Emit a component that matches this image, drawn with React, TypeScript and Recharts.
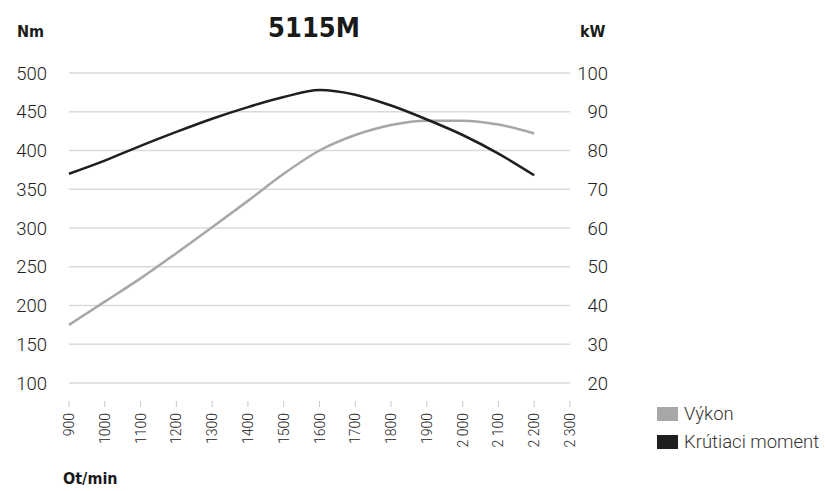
import React from 'react';
import { LineChart, Line, XAxis, YAxis, CartesianGrid } from 'recharts';

const rpm = [900, 1000, 1100, 1200, 1300, 1400, 1500, 1600, 1700, 1800, 1900, 2000, 2100, 2200];
const vykon = [35, 41, 47, 53.5, 60.2, 67, 74, 80, 84, 86.6, 87.7, 87.7, 86.7, 84.4];
const moment = [370, 387, 406, 424, 441, 456, 469, 478, 472, 458, 440, 420, 396, 368];

const xTicks = [900, 1000, 1100, 1200, 1300, 1400, 1500, 1600, 1700, 1800, 1900, 2000, 2100, 2200, 2300];
const nmTicks = [100, 150, 200, 250, 300, 350, 400, 450, 500];
const kwTicks = [20, 30, 40, 50, 60, 70, 80, 90, 100];

const title = '5115M';
const leftUnit = 'Nm';
const rightUnit = 'kW';
const xUnit = 'Ot/min';
const seriesNames = ['Výkon', 'Krútiaci moment'];
const seriesColors = ['#a7a7a7', '#1f1f1f'];

const data = rpm.map((r, i) => ({ rpm: r, vykon: vykon[i], moment: moment[i] }));

const tickFont = "Roboto, 'DejaVu Sans', sans-serif";
const boldFont = "'DejaVu Sans Condensed', 'DejaVu Sans', sans-serif";

const fmtX = (v: number) => (v >= 2000 ? `${Math.floor(v / 1000)} ${String(v % 1000).padStart(3, '0')}` : String(v));

const XTick = (props: any) => {
  const { x, y, payload } = props;
  return (
    <g>
      <line x1={x} x2={x} y1={y + 18} y2={y + 24} stroke="#c8c8c8" strokeWidth={1} />
      <text
        x={x}
        y={y + 30}
        transform={`rotate(-90 ${x} ${y + 30})`}
        textAnchor="end"
        dy="0.36em"
        fontFamily={tickFont}
        fontWeight={300}
        fontSize={14}
        fill="#222"
      >
        {fmtX(payload.value)}
      </text>
    </g>
  );
};

const LeftTick = (props: any) => {
  const { x, y, payload } = props;
  return (
    <text x={x} y={y} dy="0.36em" textAnchor="end" fontFamily={tickFont} fontWeight={300} fontSize={18.5} fill="#222">
      {payload.value}
    </text>
  );
};

const RightTick = (props: any) => {
  const { x, y, payload } = props;
  return (
    <text x={x} y={y} dy="0.36em" textAnchor="end" fontFamily={tickFont} fontWeight={300} fontSize={18.5} fill="#222">
      {payload.value}
    </text>
  );
};

export default function App() {
  return (
    <div style={{ position: 'absolute', left: 0, top: 0, width: 825, height: 491, background: '#fff' }}>
      <LineChart width={825} height={491} data={data} margin={{ top: 73, right: 0, bottom: 48, left: 0 }}>
        <CartesianGrid yAxisId="left" vertical={false} stroke="#dadada" strokeWidth={1.5} />
        <XAxis
          dataKey="rpm"
          type="number"
          domain={[900, 2300]}
          ticks={xTicks}
          interval={0}
          axisLine={false}
          tickLine={false}
          tickSize={0}
          tickMargin={0}
          height={60}
          tick={<XTick />}
        />
        <YAxis
          yAxisId="left"
          domain={[100, 500]}
          ticks={nmTicks}
          interval={0}
          width={69}
          axisLine={false}
          tickLine={false}
          tickSize={0}
          tickMargin={22}
          tick={<LeftTick />}
        />
        <YAxis
          yAxisId="right"
          orientation="right"
          domain={[20, 100]}
          ticks={kwTicks}
          interval={0}
          width={255}
          axisLine={false}
          tickLine={false}
          tickSize={0}
          tickMargin={38}
          tick={<RightTick />}
        />
        <Line
          yAxisId="right"
          type="monotone"
          dataKey="vykon"
          name={seriesNames[0]}
          stroke={seriesColors[0]}
          strokeWidth={2.5}
          dot={false}
          activeDot={false}
          isAnimationActive={false}
        />
        <Line
          yAxisId="left"
          type="monotone"
          dataKey="moment"
          name={seriesNames[1]}
          stroke={seriesColors[1]}
          strokeWidth={2.5}
          dot={false}
          activeDot={false}
          isAnimationActive={false}
        />
      </LineChart>
      <svg width={825} height={491} style={{ position: 'absolute', left: 0, top: 0, pointerEvents: 'none' }}>
        <text x={314} y={37} textAnchor="middle" fontFamily={boldFont} fontWeight={700} fontSize={27} fill="#1a1a1a">
          {title}
        </text>
        <text x={17} y={37} fontFamily={boldFont} fontWeight={700} fontSize={16} fill="#1a1a1a">
          {leftUnit}
        </text>
        <text x={580} y={37} fontFamily={boldFont} fontWeight={700} fontSize={16} fill="#1a1a1a">
          {rightUnit}
        </text>
        <text x={63} y={484} fontFamily={boldFont} fontWeight={700} fontSize={16} fill="#1a1a1a">
          {xUnit}
        </text>
        {seriesNames.map((n, i) => (
          <g key={n}>
            <rect x={657} y={407 + i * 28} width={21} height={14} fill={seriesColors[i]} />
            <text x={684} y={420 + i * 28} fontFamily={tickFont} fontWeight={300} fontSize={18.5} fill="#333">
              {n}
            </text>
          </g>
        ))}
      </svg>
    </div>
  );
}
